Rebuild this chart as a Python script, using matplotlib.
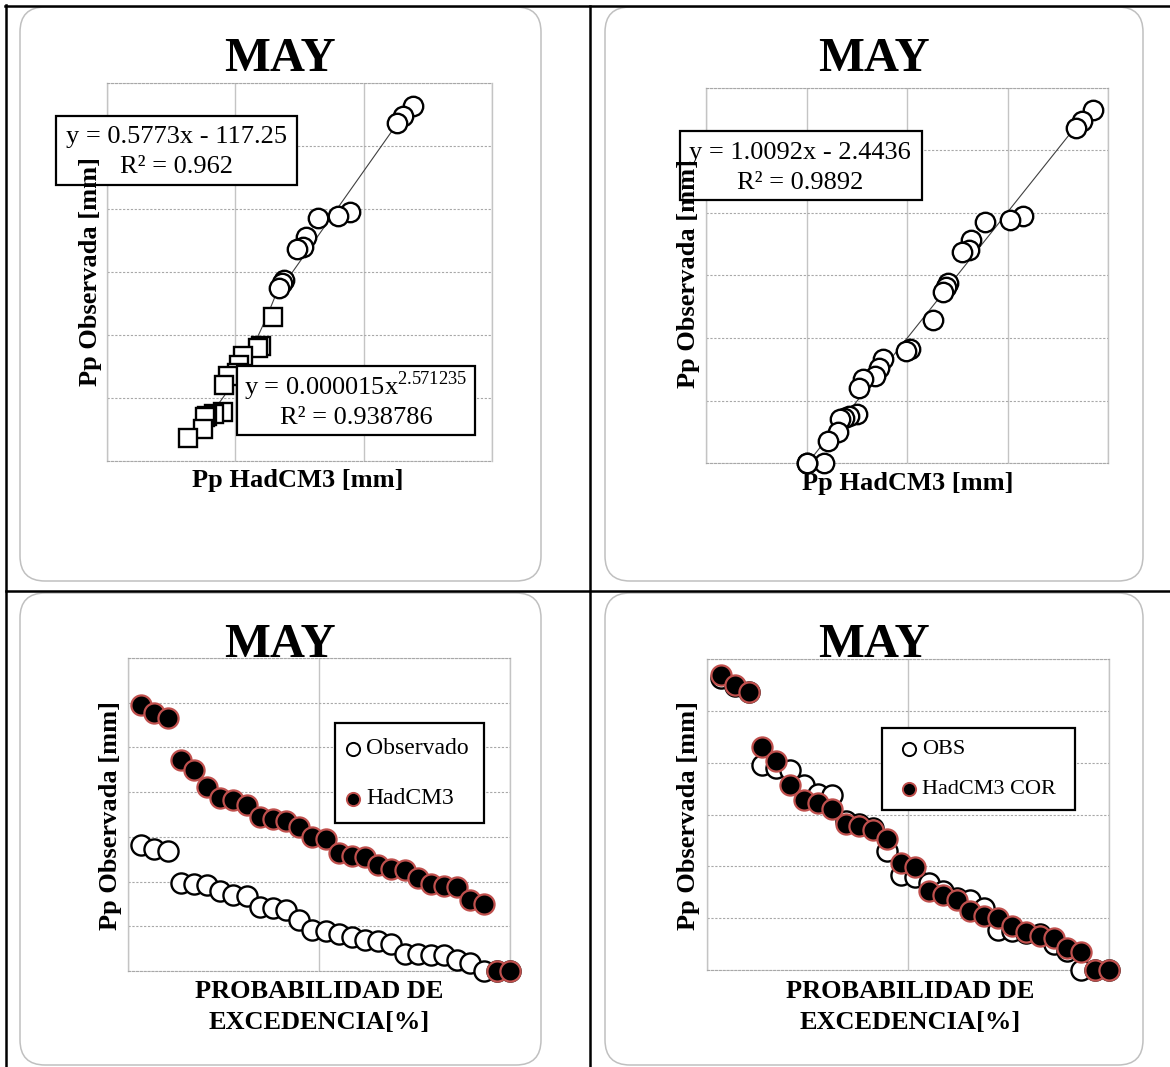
import numpy as np
import matplotlib
matplotlib.use("Agg")
import matplotlib.pyplot as plt
from matplotlib.patches import Rectangle, FancyBboxPatch
from matplotlib.lines import Line2D
from matplotlib.transforms import IdentityTransform

plt.rcParams['font.family'] = ['Liberation Serif', 'DejaVu Serif']
plt.rcParams['mathtext.fontset'] = 'custom'
plt.rcParams['mathtext.rm'] = 'Liberation Serif'

# May precipitation [mm], rank paired, sorted by exceedance probability
obs = [564, 547, 536, 395, 389, 386, 356, 340, 337, 288, 282, 274, 229, 183, 179,
       167, 152, 139, 135, 120, 78, 75, 72, 70, 50, 36, 0, 0, 0]
had = [1191, 1153, 1131, 945, 900, 822, 775, 763, 742, 690, 682, 670, 645, 600, 589,
       530, 516, 508, 472, 454, 450, 418, 391, 380, 374, 317, 299, 0, 0]
had_cor = [570, 549, 537, 431, 404, 356, 328, 323, 310, 282, 277, 271, 252, 206, 199,
           152, 145, 136, 113, 104, 101, 85, 74, 66, 62, 42, 35, 0, 0]
n_circ = 12  # upper points shown as circles in the raw scatter, rest as squares

# trendlines as printed on the chart
lin_raw = (0.5773, -117.25)
pow_raw = (0.000015, 2.571235)
lin_cor = (1.0092, -2.4436)

obs = np.array(obs, float)
had = np.array(had, float)
had_cor = np.array(had_cor, float)
prob = np.arange(1, len(obs) + 1) / len(obs)

W, H = 1170, 1067
fig = plt.figure(figsize=(W / 100, H / 100), dpi=100)
PX = IdentityTransform()
RED = '#c0504d'


def axes_px(x0, y0, x1, y1):
    return fig.add_axes([x0 / W, 1 - y1 / H, (x1 - x0) / W, (y1 - y0) / H])


def ftext(x, y, s, z=6, **kw):
    kw.setdefault('ha', 'center')
    kw.setdefault('va', 'center')
    fig.text(x / W, 1 - y / H, s, zorder=z, **kw)


def fline(x0, y0, x1, y1, **kw):
    fig.add_artist(Line2D([x0, x1], [H - y0, H - y1], transform=PX, **kw))


def frect(x0, y0, x1, y1, z=5, **kw):
    fig.add_artist(Rectangle((x0, H - y1), x1 - x0, y1 - y0, transform=PX,
                             zorder=z, **kw))


def style(ax, xt, yt):
    ax.set_xticks(xt)
    ax.set_yticks(yt)
    ax.set_xlim(xt[0], xt[-1])
    ax.set_ylim(yt[0], yt[-1])
    ax.tick_params(length=0, labelbottom=False, labelleft=False)
    ax.grid(axis='x', color='#c4c4c4', lw=1.0)
    ax.grid(axis='y', color='#a8a8a8', lw=0.8, ls=(0, (2, 1.5)))
    ax.set_axisbelow(True)
    for s in ('left', 'right'):
        ax.spines[s].set(color='#c4c4c4', lw=1.0)
    for s in ('top', 'bottom'):
        ax.spines[s].set(color='#a8a8a8', lw=0.8, ls=(0, (2, 1.5)))


# table lines and rounded frames
for x0, y0, x1, y1 in [(6, 5, 6, 1067), (5, 6, 1170, 6), (589.5, 6, 589.5, 1067),
                       (6, 590.5, 1170, 590.5)]:
    fline(x0, y0, x1, y1, color='black', lw=1.8)
for x0, y0, x1, y1 in [(20, 7, 541, 581), (605, 7, 1143, 581),
                       (20, 593, 541, 1065), (605, 593, 1143, 1065)]:
    fig.add_artist(FancyBboxPatch((x0, H - y1), x1 - x0, y1 - y0,
                                  boxstyle='round,pad=0,rounding_size=25',
                                  transform=PX, fc='none', ec='#c0c0c0', lw=1.1))

mk = dict(ls='none', clip_on=False, zorder=3)
open_c = dict(marker='o', ms=14, mfc='white', mec='black', mew=1.7)
fill_c = dict(marker='o', ms=14.5, mfc='black', mec=RED, mew=1.6)

# --- panel 1: observed vs raw HadCM3
ax1 = axes_px(107, 83, 492, 461)
style(ax1, [0, 500, 1000, 1500], list(range(0, 601, 100)))
sq = (np.arange(len(obs)) >= n_circ) & (obs > 0)
xs = np.linspace(290, 660, 60)
ax1.plot(xs, pow_raw[0] * xs ** pow_raw[1], color='#404040', lw=0.8, zorder=2)
xl = np.array([660, had[:n_circ].max()])
ax1.plot(xl, lin_raw[0] * xl + lin_raw[1], color='#404040', lw=0.8, zorder=2)
ax1.plot(had[:n_circ], obs[:n_circ], **open_c, **mk)
ax1.plot(had[sq], obs[sq], marker='s', ms=13.5, mfc='white', mec='black', mew=1.7, **mk)

# --- panel 2: observed vs corrected HadCM3
ax2 = axes_px(706, 88, 1108, 463)
style(ax2, [-200, 0, 200, 400, 600], list(range(0, 601, 100)))
xl = np.array([had_cor.min(), had_cor.max()])
ax2.plot(xl, lin_cor[0] * xl + lin_cor[1], color='#404040', lw=0.8, zorder=2)
ax2.plot(had_cor, obs, **open_c, **mk)

# --- panel 3: exceedance, observed vs raw
ax3 = axes_px(128, 658, 510, 971)
style(ax3, [0, 0.5, 1], list(range(0, 1401, 200)))
ax3.plot(prob, obs, **{**open_c, 'ms': 14.5}, **mk)
ax3.plot(prob, had, **fill_c, **mk)

# --- panel 4: exceedance, observed vs corrected
ax4 = axes_px(707, 659, 1109, 970)
style(ax4, [0, 0.5, 1], list(range(0, 601, 100)))
ax4.plot(prob, obs, **{**open_c, 'ms': 14.5}, **mk)
ax4.plot(prob, had_cor, **fill_c, **mk)

# titles and axis labels
bold = dict(fontweight='bold', fontsize=19)
for cx, by in [(280, 71), (874, 71), (280, 657), (874, 657)]:
    ftext(cx, by, 'MAY', fontsize=35, fontweight='bold', va='baseline')
ftext(90, 272, 'Pp Observada [mm]', rotation=90, z=8, **bold)
ftext(689, 274, 'Pp Observada [mm]', rotation=90, z=8, **bold)
ftext(110, 815, 'Pp Observada [mm]', rotation=90, z=8, **bold)
ftext(689, 815, 'Pp Observada [mm]', rotation=90, z=8, **bold)
ftext(298, 481, 'Pp HadCM3 [mm]', **bold)
ftext(908, 483, 'Pp HadCM3 [mm]', **bold)
for cx in (319, 910):
    ftext(cx, 992, 'PROBABILIDAD DE', **bold)
    ftext(cx, 1023, 'EXCEDENCIA[%]', **bold)

# trendline equation boxes
frect(56, 116, 297, 185, fc='white', ec='black', lw=1.6)
ftext(176, 137, f'y = {lin_raw[0]}x - {abs(lin_raw[1])}', fontsize=19)
ftext(176, 167, 'R² = 0.962', fontsize=19)
frect(237, 366, 475, 435, fc='white', ec='black', lw=1.6)
ftext(355, 386, 'y = 0.000015x$^{%s}$' % pow_raw[1], fontsize=19)
ftext(356, 418, 'R² = 0.938786', fontsize=19)
frect(680, 131, 922, 200, fc='white', ec='black', lw=1.6)
ftext(800, 153, f'y = {lin_cor[0]}x - {abs(lin_cor[1])}', fontsize=19)
ftext(800, 183, 'R² = 0.9892', fontsize=19)


# legends
def legend_px(box, rows, fs):
    frect(*box, fc='white', ec='black', lw=1.6)
    for (mx, my, style_kw, label) in rows:
        fig.add_artist(Line2D([mx], [H - my], transform=PX, ls='none', zorder=6,
                              **{**style_kw, 'ms': 9.5, 'mew': 1.4}))
        ftext(mx + 13, my, label, fontsize=fs, ha='left')


legend_px((335, 723, 484, 823),
          [(353, 749, open_c, 'Observado'), (353, 799, fill_c, 'HadCM3')], 17)
legend_px((882, 728, 1075, 810),
          [(909, 749, open_c, 'OBS'), (909, 789, fill_c, 'HadCM3 COR')], 16)

fig.savefig('out.png', dpi=100, facecolor='white')
